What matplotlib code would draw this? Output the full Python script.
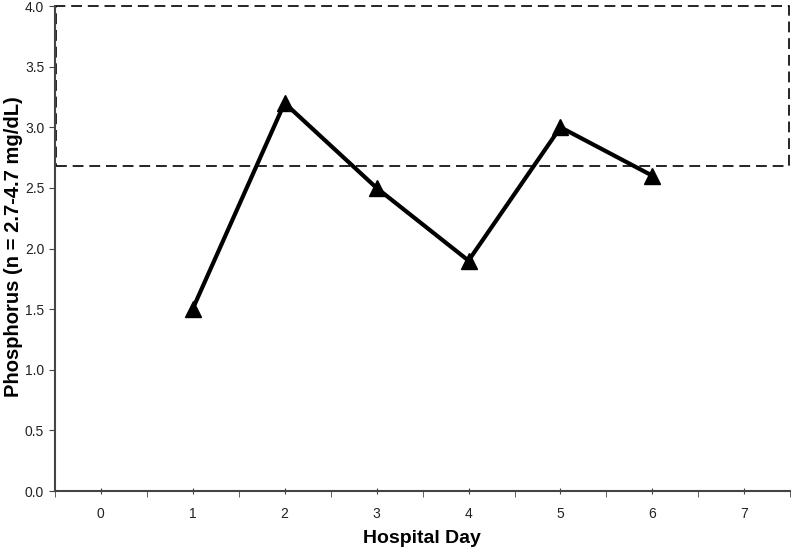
import matplotlib.pyplot as plt
from matplotlib.patches import Rectangle

plt.rcParams['font.family'] = ['Liberation Sans', 'DejaVu Sans']

days = [1, 2, 3, 4, 5, 6]
phosphorus = [1.5, 3.2, 2.5, 1.9, 3.0, 2.6]
day_labels = [0, 1, 2, 3, 4, 5, 6, 7]
normal_low, normal_high = 2.7, 4.7

fig = plt.figure(figsize=(7.92, 5.48), dpi=100)
ax = fig.add_axes([0.069, 0.104, 0.929, 0.885])

# normal range box (clipped at the top of the axis)
ax.add_patch(Rectangle((-0.48, normal_low - 0.02), 7.97, 4.0 - normal_low + 0.02,
                       fill=False, linestyle=(0, (6.5, 3.5)), linewidth=1.2,
                       edgecolor='black', clip_on=False))

ax.plot(days, phosphorus, color='black', linewidth=3, marker='^',
        markersize=11, zorder=3)

ax.set_xlim(-0.5, 7.5)
ax.set_ylim(0, 4.0)
ax.set_xticks(day_labels)
ax.set_xticks([x - 0.5 for x in day_labels] + [7.5], minor=True)
ax.set_xticklabels([str(d) for d in day_labels])
ax.tick_params(axis='x', which='major', length=5, direction='inout', labelsize=10,
               pad=9, color='#444444', labelcolor='#222222')
ax.tick_params(axis='x', which='minor', length=4, direction='out', color='#444444')
ax.set_yticks([0, 0.5, 1.0, 1.5, 2.0, 2.5, 3.0, 3.5, 4.0])
ax.set_yticklabels(['%.1f' % v for v in ax.get_yticks()])
ax.tick_params(axis='y', length=4, direction='out', labelsize=10, color='#444444',
               labelcolor='#222222')

for s in ['top', 'right']:
    ax.spines[s].set_visible(False)
for s in ['left', 'bottom']:
    ax.spines[s].set_color('#444444')
    ax.spines[s].set_linewidth(1.5)

fig.text(0.533, 0.018, 'Hospital Day', fontsize=14, fontweight='bold',
         ha='center', va='center')
fig.text(0.017, 0.55, 'Phosphorus (n = 2.7-4.7 mg/dL)', fontsize=14.5,
         fontweight='bold', rotation=90, ha='center', va='center')

fig.savefig('out.png', dpi=100)
